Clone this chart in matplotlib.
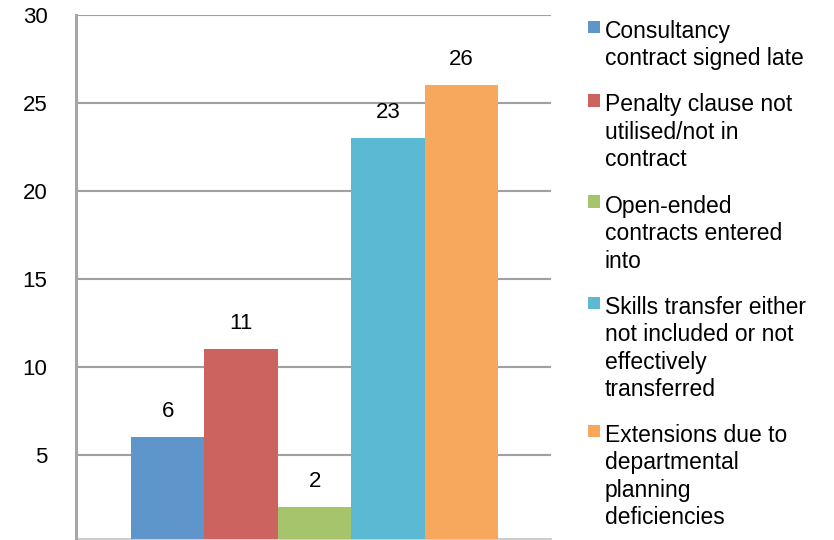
import matplotlib.pyplot as plt
from matplotlib.patches import Rectangle

plt.rcParams['font.family'] = ['Liberation Sans', 'DejaVu Sans']

categories = [
    "Consultancy\ncontract signed late",
    "Penalty clause not\nutilised/not in\ncontract",
    "Open-ended\ncontracts entered\ninto",
    "Skills transfer either\nnot included or not\neffectively\ntransferred",
    "Extensions due to\ndepartmental\nplanning\ndeficiencies",
]
values = [6, 11, 2, 23, 26]
colors = ["#5E95CA", "#CD635F", "#A6C46B", "#5CB9D3", "#F8A85C"]
y_ticks = [5, 10, 15, 20, 25, 30]

W, H = 834, 540
fig = plt.figure(figsize=(W / 100, H / 100), dpi=100)
ax = fig.add_axes([76 / W, 1 / H, 475 / W, 1 - 16 / H])

x = range(len(values))
bars = ax.bar(x, values, width=1.0, color=colors, zorder=3)

for b, v in zip(bars, values):
    ax.annotate(
        str(v),
        (b.get_x() + b.get_width() / 2, v),
        xytext=(0, 14.4),
        textcoords="offset points",
        ha="center",
        va="baseline",
        fontsize=16,
    )

ax.set_xlim(-1.25, 5.22)
ax.set_ylim(0.2, 30)
ax.set_yticks(y_ticks)
ax.set_yticklabels([str(t) for t in y_ticks], fontsize=16)
ax.set_xticks([])
ax.tick_params(axis="y", length=0, pad=20.5)
ax.grid(axis="y", color="#A0A0A0", linewidth=1.5, zorder=0)

for s in ["top", "right"]:
    ax.spines[s].set_visible(False)
ax.spines["left"].set_color("#A6A6A6")
ax.spines["left"].set_linewidth(2.2)
ax.spines["left"].set_zorder(4)
ax.spines["bottom"].set_color("#C4C4C4")
ax.spines["bottom"].set_linewidth(1.2)

# legend drawn by hand, one text per line
y = 38
for label, c in zip(categories, colors):
    fig.patches.append(
        Rectangle((588 / W, 1 - (y - 5) / H), 12 / W, 12 / H,
                  transform=fig.transFigure, facecolor=c, edgecolor="none")
    )
    lines = label.split("\n")
    for i, line in enumerate(lines):
        fig.text(605 / W, 1 - (y + i * 27.5) / H, line,
                 fontsize=16.5, ha="left", va="baseline")
    y += (len(lines) - 1) * 27.5 + 46

fig.savefig("out.png", dpi=100)
